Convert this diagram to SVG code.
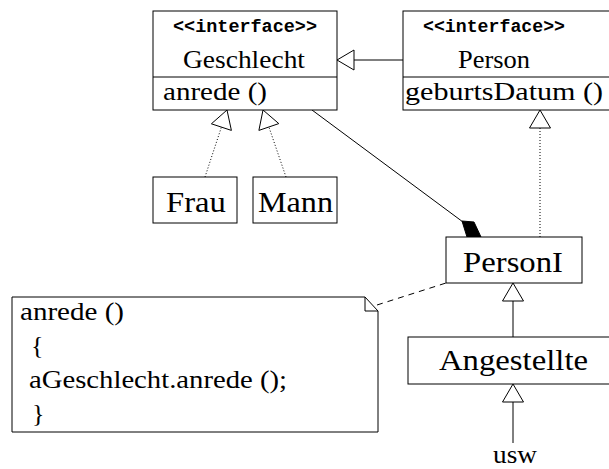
<svg xmlns="http://www.w3.org/2000/svg" width="609" height="469" viewBox="0 0 609 469">
<defs>
<style>
.box{fill:#fff;stroke:#000;stroke-width:1}
.ln{fill:none;stroke:#000;stroke-width:1}
.dot{fill:none;stroke:#000;stroke-width:1;stroke-dasharray:1 2}
.dash{fill:none;stroke:#000;stroke-width:1;stroke-dasharray:6 5}
.tri{fill:#fff;stroke:#000;stroke-width:1}
.m{font-family:'Liberation Mono','DejaVu Sans Mono',monospace;font-weight:bold;font-size:18px;fill:#000}
</style>
</defs>
<rect width="609" height="469" fill="#fff"/>
<g id="connectors">
  <line class="ln" x1="403" y1="60" x2="354" y2="60"/>
  <polygon class="tri" points="337,60 354,50 354,70"/>
  <line class="dot" x1="205" y1="177" x2="221.4" y2="127.1"/>
  <polygon class="tri" points="227,110 211.4,123.8 231.4,130.4"/>
  <line class="dot" x1="286" y1="177" x2="268.9" y2="127"/>
  <polygon class="tri" points="263,110 278.8,123.6 258.9,130.4"/>
  <line class="ln" x1="312" y1="110" x2="463" y2="222"/>
  <polygon points="462,221 474,222 481,237 467,237" fill="#000" stroke="#000" stroke-width="1"/>
  <line class="dot" x1="540" y1="237" x2="540" y2="128"/>
  <polygon class="tri" points="540,110 529.5,128 550.5,128"/>
  <line class="ln" x1="513" y1="337" x2="513" y2="301"/>
  <polygon class="tri" points="513,283 502.5,301 523.5,301"/>
  <line class="ln" x1="513" y1="443" x2="513" y2="402"/>
  <polygon class="tri" points="513,384 502.5,402 523.5,402"/>
  <line class="dash" x1="377" y1="305" x2="446" y2="283"/>
</g>
<g font-family="Liberation Serif, DejaVu Serif, Times New Roman, serif" fill="#000">
<g id="geschlecht">
  <rect class="box" x="153" y="11" width="184" height="99"/>
  <line class="ln" x1="153" y1="77" x2="337" y2="77"/>
  <text class="m" x="245" y="32" text-anchor="middle" textLength="144" lengthAdjust="spacingAndGlyphs">&lt;&lt;interface&gt;&gt;</text>
  <text x="183" y="68" font-size="26" textLength="122" lengthAdjust="spacingAndGlyphs">Geschlecht</text>
  <text x="163" y="100" font-size="26" textLength="104" lengthAdjust="spacingAndGlyphs">anrede ()</text>
</g>
<g id="person">
  <rect class="box" x="403" y="11" width="215" height="99"/>
  <line class="ln" x1="403" y1="77" x2="618" y2="77"/>
  <text class="m" x="494" y="32" text-anchor="middle" textLength="142" lengthAdjust="spacingAndGlyphs">&lt;&lt;interface&gt;&gt;</text>
  <text x="458" y="68" font-size="26" textLength="72" lengthAdjust="spacingAndGlyphs">Person</text>
  <text x="405" y="100" font-size="26" textLength="198" lengthAdjust="spacingAndGlyphs">geburtsDatum ()</text>
</g>
<g id="frau">
  <rect class="box" x="153" y="177" width="84" height="46"/>
  <text x="166" y="212" font-size="29" textLength="60" lengthAdjust="spacingAndGlyphs">Frau</text>
</g>
<g id="mann">
  <rect class="box" x="253" y="177" width="84" height="46"/>
  <text x="258" y="212" font-size="29" textLength="75" lengthAdjust="spacingAndGlyphs">Mann</text>
</g>
<g id="personI">
  <rect class="box" x="446" y="237" width="136" height="46"/>
  <text x="463" y="272" font-size="30" textLength="100" lengthAdjust="spacingAndGlyphs">PersonI</text>
</g>
<g id="angestellte">
  <rect class="box" x="408" y="337" width="212" height="47"/>
  <text x="439" y="370" font-size="30" textLength="149" lengthAdjust="spacingAndGlyphs">Angestellte</text>
</g>
<g id="usw">
  <text x="515" y="463" font-size="26" text-anchor="middle" textLength="44" lengthAdjust="spacingAndGlyphs">usw</text>
</g>
<g id="note">
  <path class="box" d="M12,297 H365 L378,311 V432 H12 Z"/>
  <path class="ln" d="M365,297 V311 H378"/>
  <text x="20" y="320" font-size="26" textLength="104" lengthAdjust="spacingAndGlyphs">anrede ()</text>
  <text x="31" y="354" font-size="26">{</text>
  <text x="29" y="388" font-size="26" textLength="258" lengthAdjust="spacingAndGlyphs">aGeschlecht.anrede ();</text>
  <text x="32" y="422" font-size="26">}</text>
</g>
</g>
</svg>
